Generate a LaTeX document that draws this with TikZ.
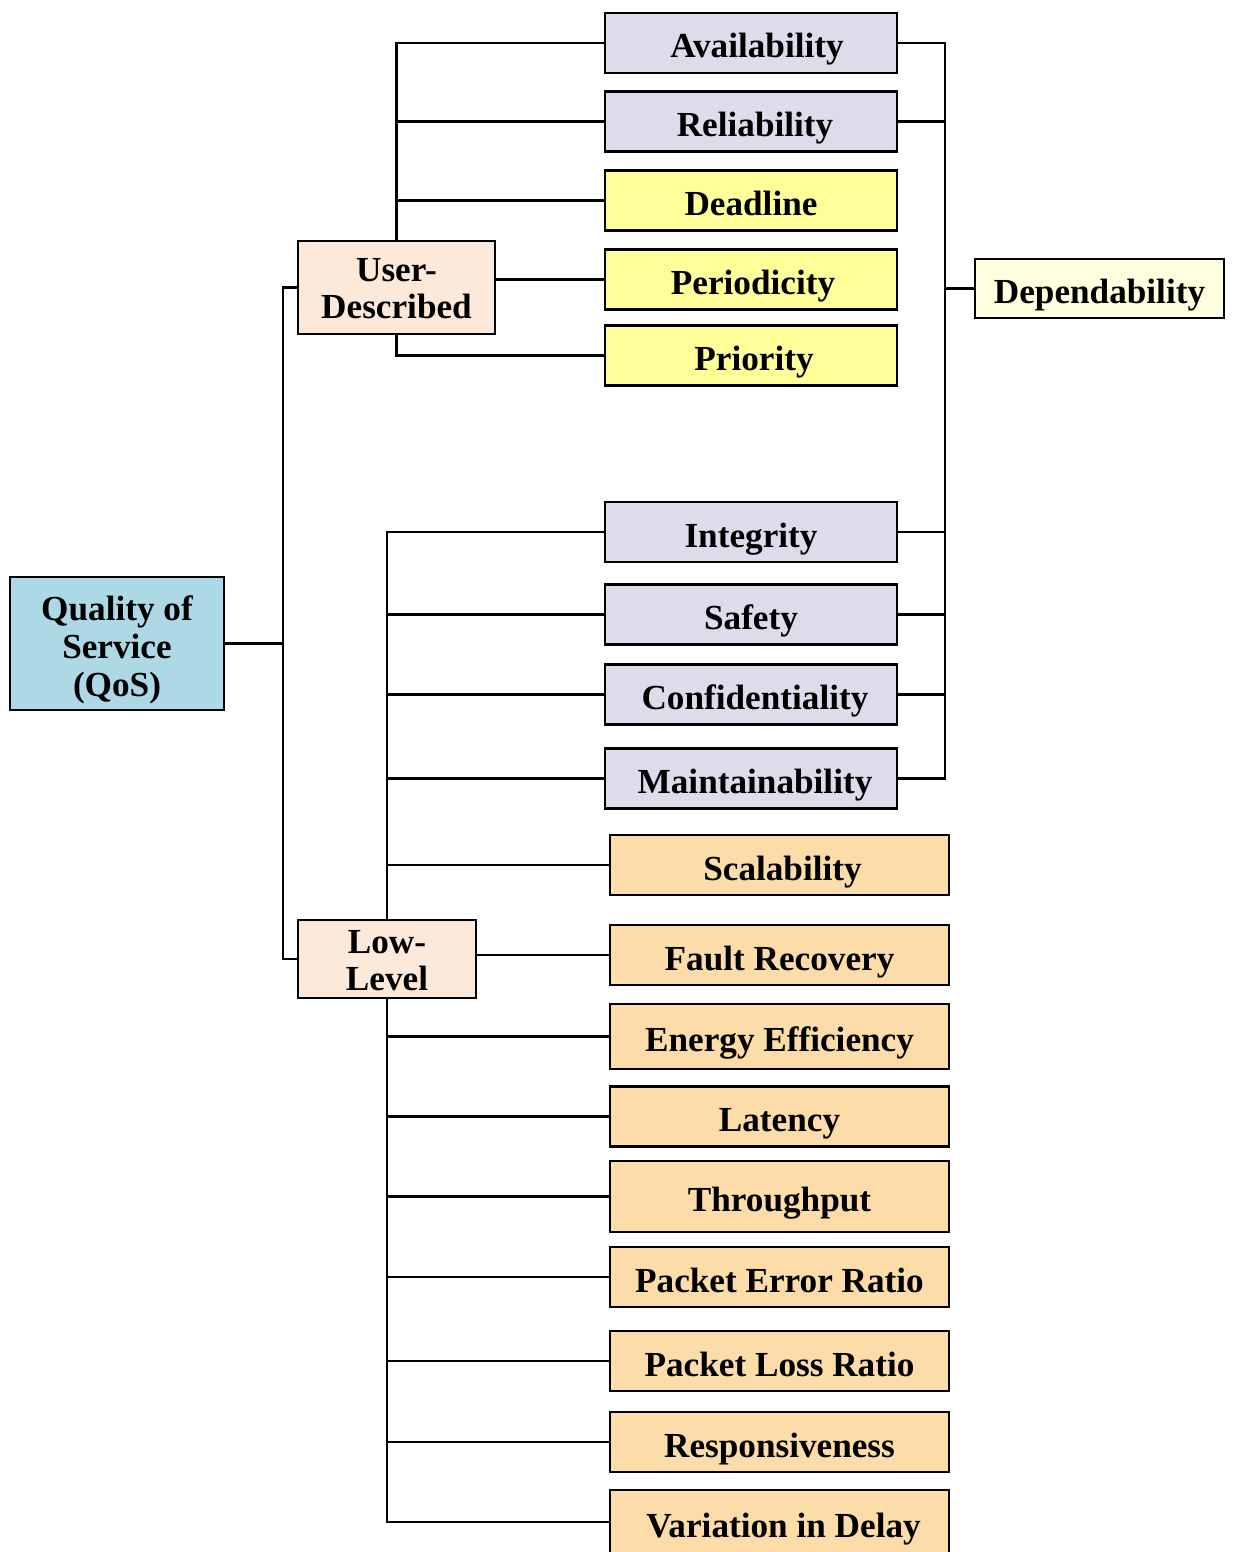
\documentclass[tikz,border=0pt]{standalone}
\usepackage{fontspec}
\setmainfont{Liberation Serif}
\definecolor{qosblue}{RGB}{173,216,230}
\definecolor{peach}{RGB}{253,233,218}
\definecolor{lav}{RGB}{224,219,234}
\definecolor{ylw}{RGB}{255,255,153}
\definecolor{cream}{RGB}{255,255,224}
\definecolor{orng}{RGB}{252,220,168}
% stacked lines with a fixed height (#1) and depth (#2) around the first baseline
\newcommand{\linestack}[3]{\raisebox{0pt}[#1][#2]{\begin{tabular}[t]{@{}c@{}}#3\end{tabular}}}
\begin{document}
\begin{tikzpicture}[x=0.5pt,y=-0.5pt,
  box/.style={draw=black, line width=1.4pt, inner sep=0pt,
    font=\fontsize{17.6}{18.6}\selectfont\bfseries},
  oneline/.style={box, text height=15pt, text depth=0pt},
  midbox/.style={oneline, minimum width=146pt, minimum height=30pt},
  lowbox/.style={oneline, fill=orng, minimum width=169.5pt, minimum height=30pt},
  conn/.style={draw=black, line width=1.4pt}]
\useasboundingbox (0,0) rectangle (1232,1552);
\clip (0,0) rectangle (1232,1552);

% root and the two branches
\node[box, fill=qosblue, minimum width=107pt, minimum height=66.5pt,
  font=\fontsize{17.6}{19}\selectfont\bfseries] (qos) at (117,643.5)
  {\linestack{20pt}{43.5pt}{Quality of\\Service\\(QoS)}};
\node[box, fill=peach, minimum width=98.5pt, minimum height=46.5pt,
  font=\fontsize{17.6}{18.2}\selectfont\bfseries] (ud) at (396.5,287.5)
  {\linestack{20pt}{25.8pt}{User-\\Described}};
\node[box, fill=peach, minimum width=89pt, minimum height=39pt,
  font=\fontsize{17.6}{18.7}\selectfont\bfseries] (ll) at (387,959)
  {\linestack{16.6pt}{22.3pt}{Low-\\Level}};

% user-described attributes
\node[midbox, fill=lav] (avail) at (751,43) {\hspace*{6pt}Availability};
\node[midbox, fill=lav] (rel) at (751,121.5) {\hspace*{4pt}Reliability};
\node[midbox, fill=ylw] (dead) at (751,200.5) {Deadline};
\node[midbox, fill=ylw] (period) at (751,279.5) {\hspace*{2pt}Periodicity};
\node[midbox, fill=ylw] (prio) at (751,355.5) {\hspace*{3pt}Priority};

% low-level attributes shared with dependability
\node[midbox, fill=lav] (integ) at (751,532) {Integrity};
\node[midbox, fill=lav] (safe) at (751,614.5) {Safety};
\node[midbox, fill=lav] (conf) at (751,694.5) {\hspace*{4pt}Confidentiality};
\node[midbox, fill=lav] (maint) at (751,778.5) {\hspace*{4pt}Maintainability};

% dependability group
\node[oneline, fill=cream, minimum width=124.5pt, minimum height=29.5pt] (dep) at (1099.5,288.5) {Dependability};

% remaining low-level attributes
\node[lowbox] (scal) at (779.5,865) {\hspace*{3pt}Scalability};
\node[lowbox] (fault) at (779.5,955) {Fault Recovery};
\node[lowbox, minimum height=32.5pt] (energy) at (779.5,1036.5) {Energy Efficiency};
\node[lowbox] (lat) at (779.5,1116.5) {Latency};
\node[lowbox, minimum height=35.5pt] (thru) at (779.5,1196.5) {Throughput};
\node[lowbox] (per) at (779.5,1277) {Packet Error Ratio};
\node[lowbox] (plr) at (779.5,1361) {Packet Loss Ratio};
\node[lowbox] (resp) at (779.5,1442) {Responsiveness};
\node[lowbox, minimum height=32pt] (var) at (779.5,1522) {\hspace*{4pt}Variation in Delay};

% root connectors
\coordinate (rj) at (283,643.5);
\draw[conn] (qos.east) -- (rj);
\draw[conn] (ud.west) -| (rj) |- (ll.west);

% user-described connectors
\draw[conn] (ud.north) |- (avail.west);
\draw[conn] (ud.north) |- (rel.west);
\draw[conn] (ud.north) |- (dead.west);
\draw[conn] (ud.east |- period.west) -- (period.west);
\draw[conn] (ud.south) |- (prio.west);

% dependability connectors
\coordinate (dj) at (945,288.5);
\foreach \n in {avail,rel,integ,safe,conf,maint}
  \draw[conn] (\n.east) -| (dj);
\draw[conn] (dep.west) -- (dj);

% low-level connectors
\foreach \n in {integ,safe,conf,maint,scal}
  \draw[conn] (ll.north) |- (\n.west);
\draw[conn] (ll.east |- fault.west) -- (fault.west);
\foreach \n in {energy,lat,thru,per,plr,resp,var}
  \draw[conn] (ll.south) |- (\n.west);
\end{tikzpicture}
\end{document}
